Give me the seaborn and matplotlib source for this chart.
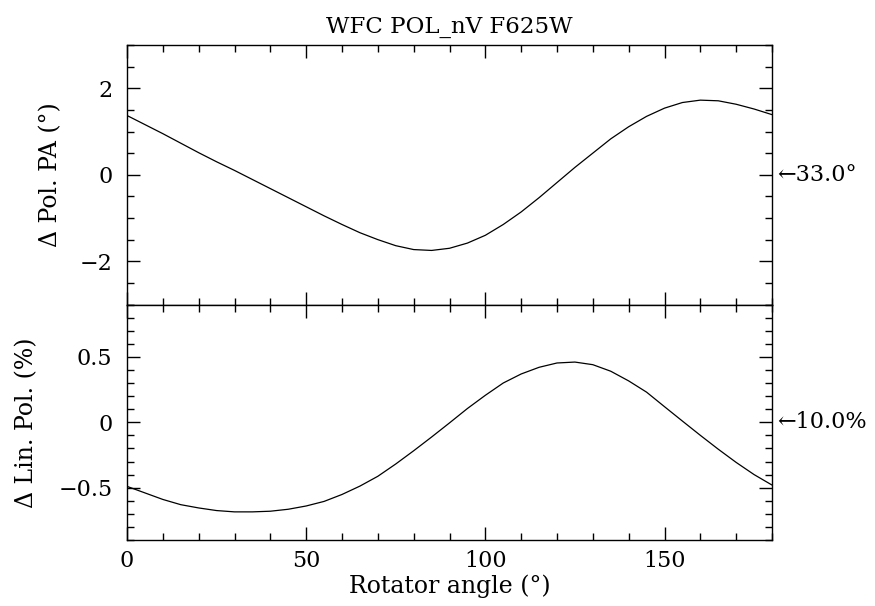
import matplotlib
matplotlib.use("Agg")
import matplotlib.pyplot as plt
import seaborn as sns
import numpy as np
import pandas as pd
from matplotlib.ticker import MultipleLocator, FuncFormatter

# ---- data ----
rotator_angle = [0, 5, 10, 15, 20, 25, 30, 35, 40, 45, 50, 55, 60, 65, 70, 75, 80, 85, 90,
                 95, 100, 105, 110, 115, 120, 125, 130, 135, 140, 145, 150, 155, 160, 165,
                 170, 175, 180]
delta_pol_pa = [1.37, 1.16, 0.95, 0.73, 0.51, 0.30, 0.10, -0.11, -0.32, -0.53, -0.74,
                -0.95, -1.15, -1.34, -1.50, -1.64, -1.73, -1.75, -1.70, -1.58, -1.40,
                -1.15, -0.86, -0.53, -0.18, 0.17, 0.50, 0.83, 1.11, 1.35, 1.54, 1.67,
                1.725, 1.71, 1.63, 1.52, 1.39]
delta_lin_pol = [-0.49, -0.54, -0.59, -0.63, -0.655, -0.675, -0.685, -0.685, -0.68,
                 -0.665, -0.64, -0.605, -0.552, -0.488, -0.413, -0.319, -0.218, -0.113,
                 -0.005, 0.105, 0.206, 0.30, 0.369, 0.42, 0.453, 0.46, 0.44, 0.39, 0.316,
                 0.23, 0.119, 0.009, -0.10, -0.206, -0.307, -0.40, -0.48]
title = "WFC POL_nV F625W"
ref_pa_label = "\u219033.0\u00b0"
ref_pol_label = "\u219010.0%"

df = pd.DataFrame({"angle": rotator_angle, "pa": delta_pol_pa, "pol": delta_lin_pol})

sns.set_style("white")
fam = ["DejaVu Serif", "Liberation Serif"]
plt.rcParams["font.family"] = fam
plt.rcParams["axes.unicode_minus"] = True
for k in ("text.color", "axes.labelcolor", "xtick.color", "ytick.color", "axes.edgecolor"):
    plt.rcParams[k] = "black"

FS = 17
TFS = 16

fig = plt.figure(figsize=(8.75, 6.06), dpi=100)
left, right = 127 / 875, 772 / 875
top_y, mid_y, bot_y = 1 - 45 / 606, 1 - 304.5 / 606, 1 - 540 / 606
ax1 = fig.add_axes([left, mid_y, right - left, top_y - mid_y])
ax2 = fig.add_axes([left, bot_y, right - left, mid_y - bot_y], sharex=ax1)

sns.lineplot(data=df, x="angle", y="pa", ax=ax1, color="black", linewidth=0.9)
sns.lineplot(data=df, x="angle", y="pol", ax=ax2, color="black", linewidth=0.9)

ax1.set_xlim(0, 180)
ax1.set_ylim(-3, 3)
ax2.set_ylim(-0.9, 0.9)

ax1.yaxis.set_major_locator(MultipleLocator(2))
ax1.yaxis.set_minor_locator(MultipleLocator(0.5))
ax2.yaxis.set_major_locator(MultipleLocator(0.5))
ax2.yaxis.set_minor_locator(MultipleLocator(0.1))
for ax in (ax1, ax2):
    ax.xaxis.set_major_locator(MultipleLocator(50))
    ax.xaxis.set_minor_locator(MultipleLocator(10))
    ax.tick_params(which="both", direction="in", top=True, right=True, bottom=True,
                   left=True, colors="black", width=1.0, labelsize=TFS)
    ax.tick_params(which="major", length=9.5)
    ax.tick_params(which="minor", length=5)
    ax.tick_params(axis="y", which="major", pad=10.5)
    ax.tick_params(axis="x", which="major", pad=7)
    for s in ax.spines.values():
        s.set_color("black")
        s.set_linewidth(1.0)
        s.set_visible(True)
    ax.set_facecolor("white")

fmt = FuncFormatter(lambda v, p: "0" if abs(v) < 1e-9 else ("%g" % v).replace("-", "\u2212"))
ax1.tick_params(labelbottom=False)
ax1.yaxis.set_major_formatter(fmt)
ax2.yaxis.set_major_formatter(fmt)

ax1.set_xlabel("")
ax1.set_ylabel("\u0394 Pol. PA (\u00b0)", fontsize=FS)
ax2.set_ylabel("\u0394 Lin. Pol. (%)", fontsize=FS)
ax2.set_xlabel("Rotator angle (\u00b0)", fontsize=FS, labelpad=2)
ax1.yaxis.set_label_coords(-0.100, 0.5)
ax2.yaxis.set_label_coords(-0.137, 0.5)

ax1.set_title(title, fontsize=16.5, pad=9, color="black")

ax1.text(1.008, 0, ref_pa_label, transform=ax1.get_yaxis_transform(),
         fontsize=TFS, va="center", ha="left")
ax2.text(1.008, 0, ref_pol_label, transform=ax2.get_yaxis_transform(),
         fontsize=TFS, va="center", ha="left")

fig.savefig("out.png", dpi=100, facecolor="white")
